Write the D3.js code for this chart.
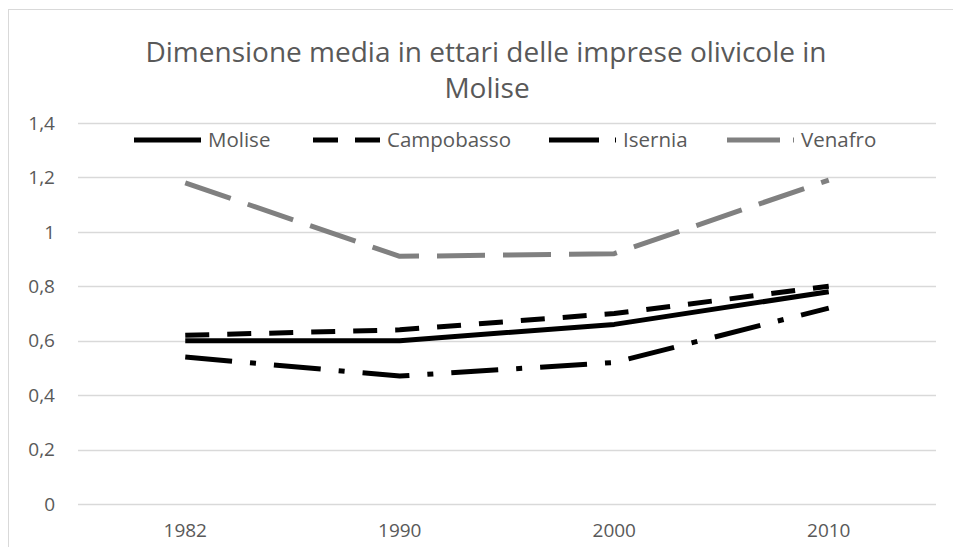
<!DOCTYPE html>
<html>
<head>
<meta charset="utf-8">
<script src="https://cdn.jsdelivr.net/npm/d3@7"></script>
<style>
  body { margin: 0; background: #fff; }
  text { font-family: "Open Sans", sans-serif; fill: #595959; }
</style>
</head>
<body>
<div id="chart"></div>
<script>
// data
var years = ["1982", "1990", "2000", "2010"];
var seriesNames = ["Molise", "Campobasso", "Isernia", "Venafro"];
var molise = [0.60, 0.60, 0.66, 0.78];
var campobasso = [0.62, 0.64, 0.70, 0.80];
var isernia = [0.54, 0.47, 0.52, 0.72];
var venafro = [1.18, 0.91, 0.92, 1.19];
var yTicks = [0, 0.2, 0.4, 0.6, 0.8, 1, 1.2, 1.4];

var allValues = [molise, campobasso, isernia, venafro];

// styles per series
var styles = [
  { color: "#000000", dash: null, legendDash: null },
  { color: "#000000", dash: "24,18", legendDash: "25,17" },
  { color: "#000000", dash: "47,18,6,18", legendDash: "50,16,6,18" },
  { color: "#808080", dash: "48,18", legendDash: "53,13" }
];
var legendX = [134, 313, 549, 727];

var width = 953, height = 547;
var plot = { left: 78, right: 936, top: 123, bottom: 504 };

var svg = d3
  .select("#chart")
  .append("svg")
  .attr("width", width)
  .attr("height", height);

// outer frame (only top and left visible)
svg.append("rect")
  .attr("x", 8.5)
  .attr("y", 9.5)
  .attr("width", width + 20)
  .attr("height", height + 20)
  .attr("fill", "none")
  .attr("stroke", "#d9d9d9");

var x = d3.scaleBand().domain(years).range([plot.left, plot.right]).padding(0);
var y = d3.scaleLinear().domain([0, 1.4]).range([plot.bottom, plot.top]);

// gridlines
svg.append("g")
  .selectAll("line")
  .data(yTicks)
  .enter()
  .append("line")
  .attr("x1", plot.left)
  .attr("x2", plot.right)
  .attr("y1", (d) => Math.round(y(d)) + 0.5)
  .attr("y2", (d) => Math.round(y(d)) + 0.5)
  .attr("stroke", "#d9d9d9")
  .attr("stroke-width", 1.5);

// Y axis labels
var fmt = (d) => String(d).replace(".", ",");
svg.append("g")
  .selectAll("text")
  .data(yTicks)
  .enter()
  .append("text")
  .attr("x", 55)
  .attr("y", (d) => y(d))
  .attr("dy", "0.35em")
  .attr("text-anchor", "end")
  .style("font-size", "19px")
  .text(fmt);

// X axis labels
svg.append("g")
  .selectAll("text")
  .data(years)
  .enter()
  .append("text")
  .attr("x", (d) => x(d) + x.bandwidth() / 2)
  .attr("y", 537)
  .attr("text-anchor", "middle")
  .style("font-size", "19px")
  .text((d) => d);

// title
svg.append("text")
  .attr("x", 486)
  .attr("y", 62)
  .attr("text-anchor", "middle")
  .style("font-size", "28px")
  .text("Dimensione media in ettari delle imprese olivicole in");
svg.append("text")
  .attr("x", 487)
  .attr("y", 98)
  .attr("text-anchor", "middle")
  .style("font-size", "28px")
  .text("Molise");

// lines
var line = d3.line()
  .x((d, i) => x(years[i]) + x.bandwidth() / 2)
  .y((d) => y(d));

svg.append("g")
  .selectAll("path")
  .data(allValues)
  .enter()
  .append("path")
  .attr("fill", "none")
  .attr("stroke", (d, i) => styles[i].color)
  .attr("stroke-width", 5)
  .attr("stroke-dasharray", (d, i) => styles[i].dash)
  .attr("stroke-linejoin", "round")
  .attr("d", line);

// legend
var legend = svg.append("g")
  .selectAll("g")
  .data(seriesNames)
  .enter()
  .append("g")
  .attr("transform", (d, i) => "translate(" + legendX[i] + ",140)");

legend.append("line")
  .attr("x1", 0)
  .attr("x2", 67)
  .attr("stroke", (d, i) => styles[i].color)
  .attr("stroke-width", 5)
  .attr("stroke-dasharray", (d, i) => styles[i].legendDash);

legend.append("text")
  .attr("x", 74)
  .attr("dy", "0.35em")
  .style("font-size", "20.5px")
  .text((d) => d);
</script>
</body>
</html>
